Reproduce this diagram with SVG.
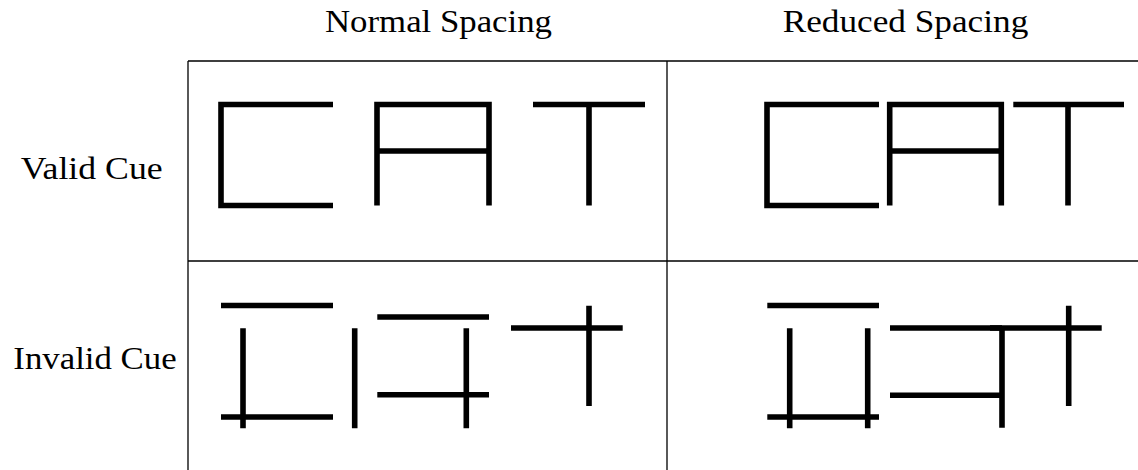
<svg xmlns="http://www.w3.org/2000/svg" width="1138" height="470" viewBox="0 0 1138 470">
<style>
.lbl{font-family:"Liberation Serif","Times New Roman",serif;font-size:30.5px;fill:#000}
.grid{stroke:#000;stroke-width:1.3;fill:none}
.bar{stroke:#000;stroke-width:5.6;fill:none;stroke-linecap:butt;stroke-linejoin:miter}
</style>
<rect width="1138" height="470" fill="#fff"/>
<g id="headers">
<text class="lbl" x="325" y="32" textLength="227" lengthAdjust="spacingAndGlyphs">Normal Spacing</text>
<text class="lbl" x="782.7" y="32" textLength="245.6" lengthAdjust="spacingAndGlyphs">Reduced Spacing</text>
<text class="lbl" x="20.7" y="178.5" textLength="142" lengthAdjust="spacingAndGlyphs">Valid Cue</text>
<text class="lbl" x="13.3" y="368.5" textLength="163.4" lengthAdjust="spacingAndGlyphs">Invalid Cue</text>
</g>
<g id="table" class="grid">
<path d="M188,61 H1138 M188,61 V470 M667,61 V470 M188,261 H1138"/>
</g>
<g id="valid-normal" class="bar">
<path d="M333,104.5 H221 V205.5 H333"/>
<path d="M377,205.5 V104.5 H489 V205.5 M377,151 H489"/>
<path d="M533,104.5 H645 M589,104.5 V205.5"/>
</g>
<g id="valid-reduced" class="bar">
<path d="M879,104.5 H767 V205.5 H879"/>
<path d="M889.7,205.5 V104.5 H1001.3 V205.5 M889.7,151 H1001.3"/>
<path d="M1013.3,104.5 H1124 M1068,104.5 V205.5"/>
</g>
<g id="invalid-normal" class="bar">
<path d="M221,305.5 H333 M221,417 H333 M243,328.3 V428.3"/>
<path d="M354.7,328.3 V428.3 M377.3,317 H489 M466.3,328.3 V428.3 M377.3,394.7 H489"/>
<path d="M511,328 H622.7 M589,305.7 V406"/>
</g>
<g id="invalid-reduced" class="bar">
<path d="M767.3,305.5 H879 M767.3,417 H879 M789.7,328.3 V428.3 M867.7,328.3 V428.3"/>
<path d="M890,328 H1002 M1002,326 V427.7 M890,395.3 H1002"/>
<path d="M990,328 H1101.7 M1068.7,305.7 V406"/>
</g>
</svg>
